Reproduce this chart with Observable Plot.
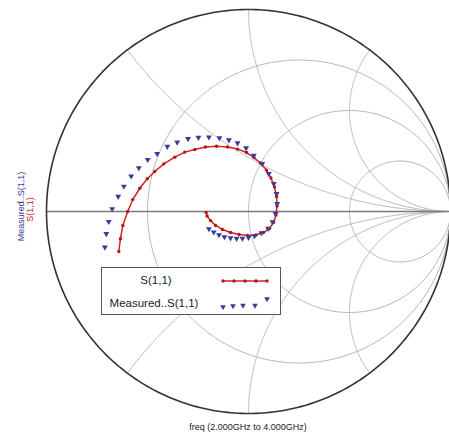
<!DOCTYPE html>
<html><head><meta charset="utf-8">
<script src="https://cdn.jsdelivr.net/npm/d3@7"></script>
<script src="https://cdn.jsdelivr.net/npm/@observablehq/plot@0.6"></script>
<style>
body{margin:0;background:#fff;font-family:"Liberation Sans",Arial,sans-serif}
#wrap{position:relative;width:449px;height:437px;overflow:hidden}
#legend{position:absolute;left:101px;top:267px;width:180px;height:48px;border:1px solid #555;background:#fff;box-sizing:border-box}
</style></head><body><div id="wrap"><div id="chart"></div><div id="legend"></div></div>
<script>
// Smith chart grid values
const resistanceCircles = [1/3, 1, 3];
const reactanceArcs = [0.5, 1, 2, -0.5, -1, -2];
// S(1,1) simulated: reflection coefficient (real, imag), 2 GHz -> 4 GHz
const s11Re = [-0.642,-0.634,-0.622,-0.598,-0.573,-0.538,-0.501,-0.464,-0.419,-0.365,-0.315,-0.266,-0.213,-0.158,-0.104,-0.054,-0.010,0.027,0.059,0.089,0.111,0.129,0.139,0.141,0.136,0.124,0.104,0.074,0.037,-0.005,-0.047,-0.089,-0.129,-0.163,-0.188,-0.205,-0.210];
const s11Im = [-0.198,-0.135,-0.069,0.000,0.059,0.115,0.162,0.198,0.236,0.269,0.294,0.307,0.319,0.323,0.319,0.309,0.292,0.267,0.240,0.205,0.166,0.121,0.074,0.027,-0.017,-0.054,-0.084,-0.104,-0.116,-0.119,-0.114,-0.104,-0.089,-0.069,-0.045,-0.022,-0.005];
// Measured S(1,1)
const measRe = [-0.711,-0.704,-0.692,-0.675,-0.645,-0.617,-0.581,-0.543,-0.499,-0.452,-0.402,-0.353,-0.299,-0.248,-0.196,-0.144,-0.097,-0.054,-0.012,0.026,0.068,0.100,0.125,0.139,0.142,0.134,0.119,0.097,0.064,0.030,0.000,-0.030,-0.059,-0.089,-0.119,-0.146,-0.172,-0.196];
const measIm = [-0.177,-0.110,-0.050,0.013,0.074,0.124,0.175,0.216,0.257,0.286,0.322,0.343,0.360,0.366,0.368,0.364,0.354,0.339,0.314,0.277,0.236,0.187,0.137,0.088,0.038,-0.011,-0.052,-0.084,-0.106,-0.121,-0.129,-0.133,-0.134,-0.131,-0.126,-0.116,-0.102,-0.086];
const seriesNames = ["S(1,1)", "Measured..S(1,1)"];
const xLabel = "freq (2.000GHz to 4.000GHz)";

const RED = "#d02424", BLUE = "#3c3c96";

function gamma(r, x){ const D=(r+1)*(r+1)+x*x; return [(r*r-1+x*x)/D, 2*x/D]; }
const N = 600;
const grid = [];
resistanceCircles.forEach((r,i)=>{
  for(let k=1;k<N;k++){ const x=Math.tan(-Math.PI/2+Math.PI*k/N); const g=gamma(r,x); grid.push({id:"r"+i,gx:g[0],gy:g[1]}); }
});
reactanceArcs.forEach((x,i)=>{
  for(let k=0;k<N;k++){ const r=Math.tan(Math.PI/2*k/N); const g=gamma(r,x); grid.push({id:"x"+i,gx:g[0],gy:g[1]}); }
});
const outer = d3.range(0,361,1).map(a=>({gx:Math.cos(a*Math.PI/180),gy:Math.sin(a*Math.PI/180)}));
const axisLine = [{gx:-1,gy:0},{gx:1,gy:0}];
const s11 = s11Re.map((v,i)=>({re:v,im:s11Im[i]}));
const meas = measRe.map((v,i)=>({re:v,im:measIm[i]}));

const plot = Plot.plot({
  width:449, height:437,
  marginLeft:46, marginRight:0, marginTop:9, marginBottom:24,
  x:{domain:[-1,1], range:[46,450], axis:null},
  y:{domain:[-1,1], range:[413,9], axis:null},
  style:{fontFamily:"Liberation Sans, Arial, sans-serif", overflow:"visible", background:"transparent"},
  marks:[
    Plot.line(grid,{x:"gx",y:"gy",z:"id",stroke:"#b4b4b4",strokeWidth:1}),
    Plot.line(axisLine,{x:"gx",y:"gy",stroke:"#7a7a7a",strokeWidth:1.3}),
    Plot.line(outer,{x:"gx",y:"gy",stroke:"#333",strokeWidth:1.6}),
    Plot.line(s11,{x:"re",y:"im",stroke:RED,strokeWidth:1.5}),
    Plot.dot(s11,{x:"re",y:"im",r:1.7,fill:"#b01818",stroke:null}),
    Plot.dot(meas,{x:"re",y:"im",symbol:"triangle",rotate:180,r:2.2,fill:BLUE,stroke:null}),
    Plot.text([xLabel],{frameAnchor:"bottom",dy:16,fontSize:9,fill:"#222"}),
    Plot.text([seriesNames[1]],{frameAnchor:"left",textAnchor:"middle",dx:-25,dy:-5,rotate:-90,fontSize:9,fill:BLUE}),
    Plot.text([seriesNames[0]],{frameAnchor:"left",textAnchor:"middle",dx:-16,dy:-2,rotate:-90,fontSize:9,fill:RED})
  ]
});
document.getElementById("chart").appendChild(plot);

// legend
const lg = d3.select("#legend").append("svg").attr("width",178).attr("height",46).style("display","block");
lg.append("text").attr("x",54).attr("y",16).attr("text-anchor","middle").attr("font-size",11.5).attr("fill","#222").text(seriesNames[0]);
lg.append("text").attr("x",52).attr("y",39).attr("text-anchor","middle").attr("font-size",11.5).attr("fill","#222").text(seriesNames[1]);
lg.append("line").attr("x1",121).attr("x2",166).attr("y1",13).attr("y2",13).attr("stroke",RED).attr("stroke-width",1.5);
[121,132,143,154,165].forEach(x=>lg.append("circle").attr("cx",x).attr("cy",13).attr("r",1.7).attr("fill","#b01818"));
const tri = d3.symbol(d3.symbolTriangle, 14);
[[121,39],[131,38],[141,37.5],[153,37.5],[165,31]].forEach(([x,y])=>lg.append("path").attr("d",tri()).attr("transform",`translate(${x},${y}) rotate(180)`).attr("fill",BLUE));
</script>
</body></html>
